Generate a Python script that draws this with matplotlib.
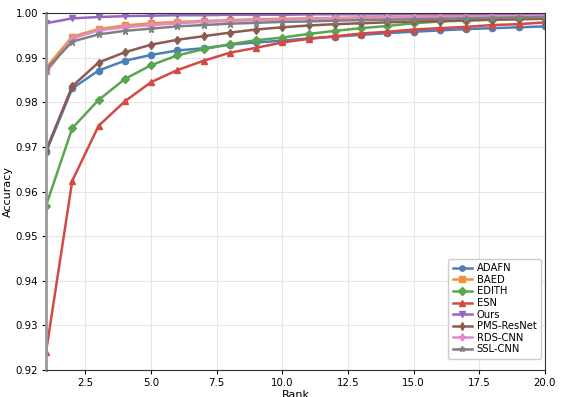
import numpy as np
import matplotlib
matplotlib.use("Agg")
import matplotlib.pyplot as plt

ranks = list(range(1, 21))

adafn = [0.9688, 0.9831, 0.9871, 0.9893, 0.9906, 0.9916, 0.9921, 0.9929, 0.9934, 0.9938,
         0.9943, 0.9947, 0.9951, 0.9955, 0.9958, 0.9961, 0.9964, 0.9966, 0.9968, 0.9970]
baed = [0.9877, 0.9947, 0.9964, 0.9972, 0.9977, 0.9980, 0.9982, 0.9984, 0.9986, 0.9987,
        0.9988, 0.9989, 0.9990, 0.9991, 0.9992, 0.9993, 0.9993, 0.9994, 0.9995, 0.9995]
edith = [0.9568, 0.9742, 0.9805, 0.9852, 0.9883, 0.9905, 0.9919, 0.9930, 0.9939, 0.9945,
         0.9953, 0.9960, 0.9966, 0.9971, 0.9977, 0.9981, 0.9983, 0.9985, 0.9987, 0.9988]
esn = [0.9240, 0.9624, 0.9747, 0.9802, 0.9845, 0.9872, 0.9893, 0.9911, 0.9922, 0.9934,
       0.9942, 0.9948, 0.9954, 0.9958, 0.9963, 0.9966, 0.9969, 0.9973, 0.9975, 0.9979]
ours = [0.9977, 0.9988, 0.9991, 0.9993, 0.9994, 0.9995, 0.9995, 0.9996, 0.9996, 0.9996,
        0.9997, 0.9997, 0.9997, 0.9997, 0.9998, 0.9998, 0.9998, 0.9998, 0.9998, 0.9998]
pms = [0.9692, 0.9836, 0.9889, 0.9912, 0.9929, 0.9940, 0.9948, 0.9956, 0.9963, 0.9968,
       0.9972, 0.9975, 0.9977, 0.9979, 0.9981, 0.9982, 0.9984, 0.9985, 0.9986, 0.9987]
rds = [0.9866, 0.9943, 0.9961, 0.9968, 0.9973, 0.9977, 0.9980, 0.9982, 0.9984, 0.9985,
       0.9987, 0.9988, 0.9989, 0.9990, 0.9991, 0.9992, 0.9992, 0.9993, 0.9993, 0.9994]
ssl = [0.9873, 0.9936, 0.9952, 0.9960, 0.9965, 0.9970, 0.9973, 0.9976, 0.9978, 0.9980,
       0.9981, 0.9983, 0.9984, 0.9985, 0.9986, 0.9987, 0.9988, 0.9989, 0.9990, 0.9991]

series = [
    ("ADAFN", adafn, "#4c7fb8", "o"),
    ("BAED", baed, "#f28e3c", "s"),
    ("EDITH", edith, "#5aa64f", "D"),
    ("ESN", esn, "#d14a45", "^"),
    ("Ours", ours, "#9467bd", "v"),
    ("PMS-ResNet", pms, "#8c5a4f", "d"),
    ("RDS-CNN", rds, "#e08ccc", "P"),
    ("SSL-CNN", ssl, "#808080", "*"),
]

fig = plt.figure(figsize=(5.64, 3.97), dpi=100)
ax = fig.add_axes([46/564, 1-370/397, 499/564, 357/397])

for name, vals, col, mk in series:
    ax.plot(ranks, vals, color=col, marker=mk, markersize=4.5, linewidth=1.8, label=name)

ax.set_xlim(1, 20)
ax.set_ylim(0.92, 1.00)
ax.set_xticks([2.5, 5.0, 7.5, 10.0, 12.5, 15.0, 17.5, 20.0])
ax.set_yticks(np.round(np.arange(0.92, 1.0001, 0.01), 2))
ax.grid(True, color="#e6e6e6", linewidth=0.8)
ax.set_axisbelow(True)
ax.set_xlabel("Rank", fontsize=8, labelpad=2)
ax.set_ylabel("Accuracy", fontsize=8, labelpad=2)
ax.tick_params(labelsize=7.4, length=3, pad=2.5)
ax.spines["left"].set_color("#999999")
ax.spines["left"].set_linewidth(2)
for s in ["top", "right", "bottom"]:
    ax.spines[s].set_color("#333333")

ax.legend(loc="lower right", bbox_to_anchor=(0.992, 0.031), borderaxespad=0,
          fontsize=7.2, handlelength=1.9, labelspacing=0.16, borderpad=0.45,
          handletextpad=0.5, markerscale=0.85, framealpha=1,
          edgecolor="#cccccc", fancybox=True)

fig.savefig("out.png", dpi=100)
